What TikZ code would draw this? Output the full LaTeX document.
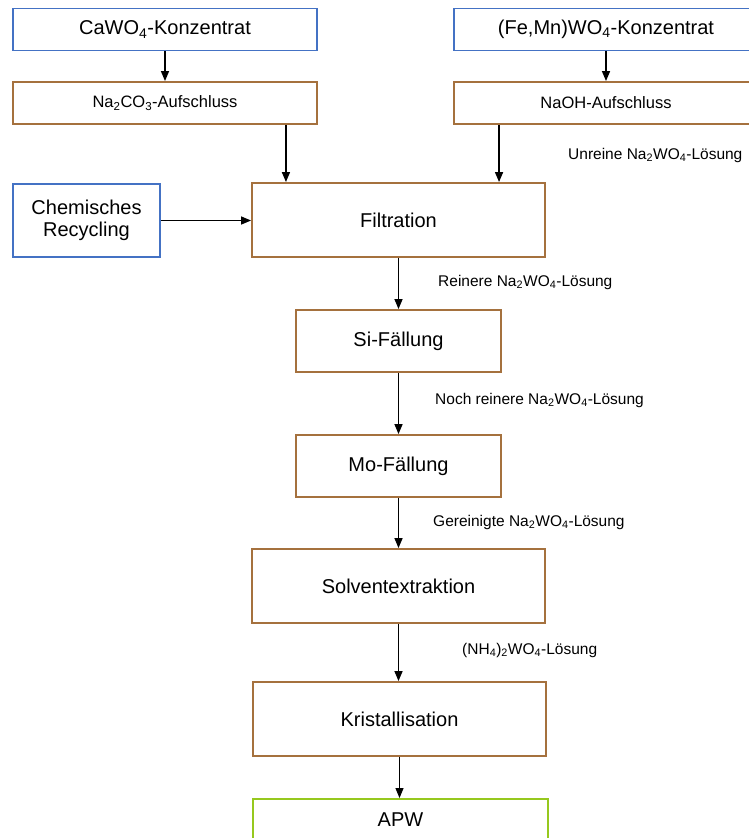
\documentclass[tikz,border=0pt]{standalone}
\usepackage{fontspec}
\setmainfont{Liberation Sans}
\usetikzlibrary{arrows.meta}
\definecolor{srcblue}{RGB}{68,114,196}
\definecolor{procbrown}{RGB}{165,113,62}
\definecolor{prodgreen}{RGB}{150,200,30}
\newcommand{\chs}[1]{\textsubscript{#1}}
\tikzset{
  box/.style={draw, line width=1.9pt, inner sep=0pt, align=center, fill=white},
  srcbox/.style={box, draw=srcblue},
  procbox/.style={box, draw=procbrown},
  prodbox/.style={box, draw=prodgreen},
  bigtxt/.style={font=\fontsize{20}{23}\selectfont},
  midtxt/.style={font=\fontsize{16.5}{19}\selectfont},
  lbl/.style={font=\fontsize{15.5}{18}\selectfont, anchor=west, inner sep=0pt},
  arr/.style={line width=1.5pt, -{Triangle[width=8pt,length=10pt]}},
  thinarr/.style={line width=1pt, -{Triangle[width=8pt,length=10pt]}}
}
\begin{document}
\begin{tikzpicture}[x=1pt, y=-1pt]
\useasboundingbox (0,0) rectangle (749,838);
\begin{scope}
\clip (0,0) rectangle (749,838);
% raw materials and digestion
\node[srcbox, bigtxt, minimum width=304pt, minimum height=42pt] (caw) at (165,29.5) {CaWO\chs{4}-Konzentrat};
\node[procbox, midtxt, minimum width=304pt, minimum height=42pt] (na2) at (165,103) {Na\chs{2}CO\chs{3}-Aufschluss};
\node[srcbox, bigtxt, minimum width=304pt, minimum height=42pt] (fem) at (606,29.5) {(Fe,Mn)WO\chs{4}-Konzentrat};
\node[procbox, midtxt, minimum width=304pt, minimum height=42pt] (naoh) at (606,103) {NaOH-Aufschluss};
\node[srcbox, bigtxt, minimum width=147pt, minimum height=73pt] (chem) at (86.5,220.5) {Chemisches\\[-1pt]Recycling};
% purification chain
\node[procbox, bigtxt, minimum width=293pt, minimum height=74pt] (filt) at (398.5,220) {Filtration};
\node[procbox, bigtxt, minimum width=205pt, minimum height=62pt] (si) at (398.5,341) {Si-F\"allung};
\node[procbox, bigtxt, minimum width=205pt, minimum height=62pt] (mo) at (398.5,466) {Mo-F\"allung};
\node[procbox, bigtxt, minimum width=293pt, minimum height=74pt] (solv) at (398.5,586) {Solventextraktion};
\node[procbox, bigtxt, minimum width=293pt, minimum height=74pt] (krist) at (399.5,719) {Kristallisation};
\node[prodbox, bigtxt, minimum width=295pt, minimum height=42pt] (apw) at (400.5,820) {APW};
\end{scope}
% connectors
\draw[arr] (caw.south) -- (na2.north);
\draw[arr] (fem.south) -- (naoh.north);
\draw[arr] ([xshift=-32pt]na2.south east) -- ([xshift=-32pt]na2.south east |- filt.north);
\draw[arr] ([xshift=46pt]naoh.south west) -- ([xshift=46pt]naoh.south west |- filt.north);
\draw[arr] (chem.east) -- (chem.east -| filt.west);
\draw[arr] (filt.south) -- (si.north);
\draw[arr] (si.south) -- (mo.north);
\draw[arr] (mo.south) -- (solv.north);
\draw[arr] (solv.south) -- (solv.south |- krist.north);
\draw[thinarr] (krist.south) -- (krist.south |- apw.north);
% stream labels
\node[lbl] (l1) at (568,155) {Unreine Na\chs{2}WO\chs{4}-L\"osung};
\node[lbl] (l2) at (438,282) {Reinere Na\chs{2}WO\chs{4}-L\"osung};
\node[lbl] (l3) at (435,400) {Noch reinere Na\chs{2}WO\chs{4}-L\"osung};
\node[lbl] (l4) at (433,522) {Gereinigte Na\chs{2}WO\chs{4}-L\"osung};
\node[lbl] (l5) at (462,650) {(NH\chs{4})\chs{2}WO\chs{4}-L\"osung};
\end{tikzpicture}
\end{document}
